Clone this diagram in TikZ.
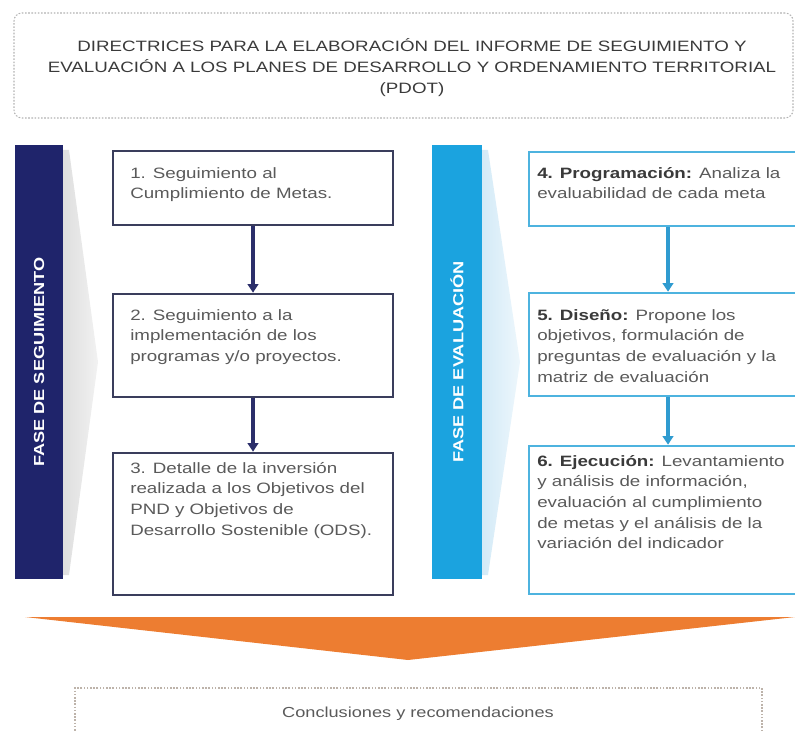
\documentclass[tikz,border=0pt]{standalone}
\usepackage{fontspec}
\setmainfont{Liberation Sans}[FakeStretch=1.25]
\usetikzlibrary{arrows.meta,fit}
\definecolor{navy}{HTML}{1F246B}
\definecolor{skyb}{HTML}{1BA3DF}
\definecolor{boxl}{HTML}{3A3D5C}
\definecolor{boxr}{HTML}{4DB3DF}
\definecolor{arrl}{HTML}{2B2E6A}
\definecolor{arrr}{HTML}{2F9BD0}
\definecolor{orng}{HTML}{ED7D31}
\definecolor{txt}{HTML}{5A5A5A}
\definecolor{txtd}{HTML}{3A3A3A}
\definecolor{chevg}{HTML}{DEDEDE}
\definecolor{chevb}{HTML}{D3EAF7}
\definecolor{concl}{HTML}{BDB3AA}
\begin{document}
\begin{tikzpicture}[x=0.75pt,y=-0.75pt,
  boxL/.style={draw=boxl, line width=1.9pt, fill=white, inner sep=0pt},
  boxR/.style={draw=boxr, line width=1.9pt, fill=white, inner sep=0pt},
  bartxt/.style={rotate=90, text=white, inner sep=0pt, font=\fontsize{10.9pt}{12pt}\selectfont\bfseries},
  btext/.style={anchor=north west, inner sep=0pt, align=left, text=txt, font=\fontsize{11.25pt}{15.5pt}\selectfont},
  arrL/.style={draw=arrl, line width=2.6pt, -{Triangle[length=6.5pt,width=8pt]}},
  arrR/.style={draw=arrr, line width=2.6pt, -{Triangle[length=6.5pt,width=8pt]}}]
\useasboundingbox (0,0) rectangle (795,731);

% title
\node[draw=gray!60, line width=0.8pt, dash pattern=on 1.2pt off 1.2pt, rounded corners=6pt, inner sep=0pt, fit={(14,13)(793,118)}] (tbox) {};
\node[anchor=north, inner sep=0pt, align=center, text=txtd, font=\fontsize{11.25pt}{15.75pt}\selectfont] (ttext) at (412,36.3)
 {\strut DIRECTRICES PARA LA ELABORACIÓN DEL INFORME DE SEGUIMIENTO Y\\
  EVALUACIÓN A LOS PLANES DE DESARROLLO Y ORDENAMIENTO TERRITORIAL\\
  (PDOT)};

% chevrons behind bars
\shade[left color=chevg, right color=chevg!40] (63,150) -- (69,150) -- (98,362) -- (69,575) -- (63,575) -- cycle;
\shade[left color=chevb, right color=chevb!40] (482,150) -- (488,150) -- (520,362) -- (488,575) -- (482,575) -- cycle;

% bars
\node[fill=navy, inner sep=0pt, fit={(15,145)(63,579)}] (barL) {};
\node[bartxt] (barLt) at (barL.center) {FASE DE SEGUIMIENTO};
\node[fill=skyb, inner sep=0pt, fit={(432,145)(482,579)}] (barR) {};
\node[bartxt] (barRt) at (barR.center) {FASE DE EVALUACIÓN};

% left boxes
\node[boxL, fit={(113,151)(393,225)}] (b1) {};
\node[boxL, fit={(113,294)(393,397)}] (b2) {};
\node[boxL, fit={(113,453)(393,595)}] (b3) {};
\node[btext] (t1) at (130,163.5) {\strut 1. Seguimiento al\\Cumplimiento de Metas.};
\node[btext] (t2) at (130,305.5) {\strut 2. Seguimiento a la\\implementación de los\\programas y/o proyectos.};
\node[btext] (t3) at (130,458.5) {\strut 3. Detalle de la inversión\\realizada a los Objetivos del\\PND y Objetivos de\\Desarrollo Sostenible (ODS).};

% right boxes
\node[boxR, fit={(529,152)(807,226)}] (b4) {};
\node[boxR, fit={(529,293)(807,396)}] (b5) {};
\node[boxR, fit={(529,446)(807,594)}] (b6) {};
\node[btext] (t4) at (537,163.5) {\strut\textcolor{txtd}{\textbf{4. Programación:}} Analiza la\\evaluabilidad de cada meta};
\node[btext] (t5) at (537,305.5) {\strut\textcolor{txtd}{\textbf{5. Diseño:}} Propone los\\objetivos, formulación de\\preguntas de evaluación y la\\matriz de evaluación};
\node[btext] (t6) at (537,451.5) {\strut\textcolor{txtd}{\textbf{6. Ejecución:}} Levantamiento\\y análisis de información,\\evaluación al cumplimiento\\de metas y el análisis de la\\variación del indicador};

% connectors
\draw[arrL] (b1.south) -- (b2.north);
\draw[arrL] (b2.south) -- (b3.north);
\draw[arrR] (b4.south) -- (b5.north);
\draw[arrR] (b5.south) -- (b6.north);

% orange arrow
\fill[orng] (25,617) -- (795,617) -- (408,660) -- cycle;

% conclusions
\node[draw=concl, line width=0.8pt, dash pattern=on 1.2pt off 1.2pt, inner sep=0pt, fit={(75,688)(762,745)}] (cbox) {};
\node[inner sep=0pt, text=txt, font=\fontsize{10.9pt}{13pt}\selectfont] (ctext) at (418,714) {Conclusiones y recomendaciones};
\end{tikzpicture}
\end{document}
